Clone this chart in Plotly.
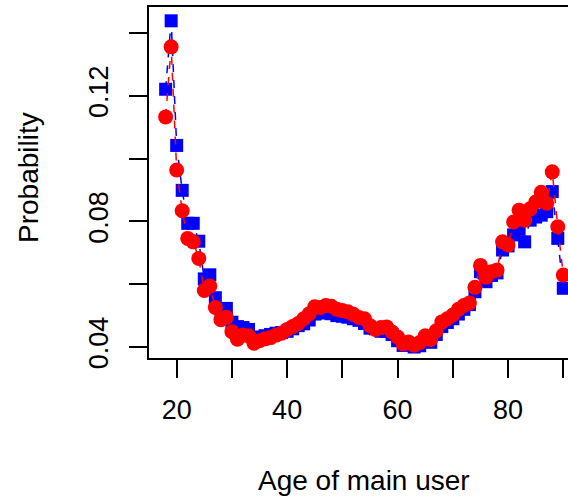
import plotly.graph_objects as go

# Age of the main user (years)
ages = list(range(18, 91))

# Estimated probability, first model (blue squares)
prob_blue = [
    0.1221, 0.1439, 0.1042, 0.0899, 0.0794, 0.0794, 0.0737, 0.0617, 0.0630, 0.0557,
    0.0520, 0.0523, 0.0479, 0.0465, 0.0462, 0.0456, 0.0430, 0.0432, 0.0436, 0.0440,
    0.0444, 0.0446, 0.0450, 0.0458, 0.0468, 0.0474, 0.0486, 0.0505, 0.0512, 0.0508,
    0.0506, 0.0500, 0.0498, 0.0495, 0.0490, 0.0485, 0.0475, 0.0460, 0.0458, 0.0450,
    0.0450, 0.0440, 0.0420, 0.0405, 0.0410, 0.0400, 0.0404, 0.0420, 0.0415, 0.0440,
    0.0465, 0.0478, 0.0490, 0.0505, 0.0520, 0.0535, 0.0576, 0.0640, 0.0608, 0.0628,
    0.0636, 0.0709, 0.0722, 0.0757, 0.0775, 0.0735, 0.0804, 0.0814, 0.0820, 0.0831,
    0.0895, 0.0746, 0.0587,
]

# Estimated probability, second model (red circles)
prob_red = [
    0.1133, 0.1356, 0.0964, 0.0834, 0.0746, 0.0735, 0.0682, 0.0580, 0.0594, 0.0526,
    0.0487, 0.0495, 0.0449, 0.0425, 0.0438, 0.0436, 0.0412, 0.0420, 0.0426, 0.0430,
    0.0438, 0.0444, 0.0456, 0.0465, 0.0475, 0.0490, 0.0506, 0.0528, 0.0526, 0.0532,
    0.0530, 0.0520, 0.0516, 0.0512, 0.0504, 0.0494, 0.0490, 0.0468, 0.0456, 0.0462,
    0.0464, 0.0448, 0.0432, 0.0410, 0.0416, 0.0406, 0.0414, 0.0436, 0.0424, 0.0452,
    0.0480, 0.0490, 0.0502, 0.0520, 0.0532, 0.0540, 0.0590, 0.0660, 0.0622, 0.0640,
    0.0645, 0.0735, 0.0725, 0.0798, 0.0836, 0.0804, 0.0840, 0.0862, 0.0893, 0.0858,
    0.0958, 0.0783, 0.0629,
]

x_ticks = [20, 30, 40, 50, 60, 70, 80, 90]
x_tick_labels = ["20", "", "40", "", "60", "", "80", ""]
y_ticks = [0.04, 0.06, 0.08, 0.10, 0.12, 0.14]
y_tick_labels = ["0.04", "", "0.08", "", "0.12", ""]

FONT = "Liberation Sans, Arial, sans-serif"
FS = 27

fig = go.Figure()
fig.add_trace(go.Scatter(
    x=ages, y=prob_blue, mode="lines+markers",
    line=dict(color="#0000FF", width=1.5, dash="8px,8px"),
    marker=dict(symbol="square", size=13, color="#0000FF"),
    showlegend=False,
))
fig.add_trace(go.Scatter(
    x=ages, y=prob_red, mode="lines+markers",
    line=dict(color="#FF0000", width=1.5, dash="8px,8px"),
    marker=dict(symbol="circle", size=15, color="#FF0000"),
    showlegend=False,
))

fig.update_layout(
    width=568, height=499,
    margin=dict(l=149, r=0, t=7, b=141),
    paper_bgcolor="white", plot_bgcolor="white",
    font=dict(family=FONT, size=FS, color="black"),
    xaxis=dict(
        range=[14.99, 90.85], tickvals=x_ticks, ticktext=x_tick_labels,
        ticks="outside", ticklen=18, tickwidth=1.5, tickcolor="black",
        showline=True, linecolor="black", linewidth=1.5, mirror=True,
        showgrid=False, zeroline=False, ticklabelstandoff=9,
    ),
    yaxis=dict(
        range=[0.0365, 0.1483], tickvals=y_ticks, ticktext=y_tick_labels,
        ticks="outside", ticklen=18, tickwidth=1.5, tickcolor="black",
        showline=True, linecolor="black", linewidth=1.5, mirror=False,
        showgrid=False, zeroline=False, tickangle=-90, ticklabelstandoff=10,
    ),
    annotations=[
        dict(text="Age of main user", xref="paper", yref="paper",
             x=(364 - 149) / 419, y=-(480 - 358) / 351,
             xanchor="center", yanchor="middle", showarrow=False,
             font=dict(family=FONT, size=28)),
        dict(text="Probability", xref="paper", yref="paper",
             x=-(149 - 28) / 419, y=(358 - 178) / 351, textangle=-90,
             xanchor="center", yanchor="middle", showarrow=False,
             font=dict(family=FONT, size=28)),
    ],
)

fig.write_html("out.html")
